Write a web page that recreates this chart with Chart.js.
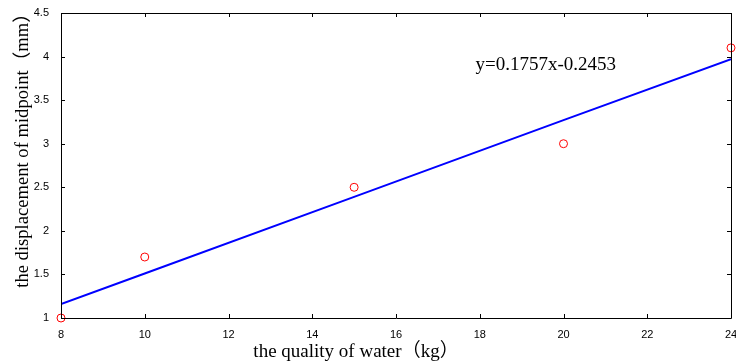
<!DOCTYPE html>
<html>
<head>
<meta charset="utf-8">
<script src="https://cdn.jsdelivr.net/npm/chart.js@4.4.1/dist/chart.umd.min.js"></script>
<style>
html,body{margin:0;padding:0;background:#fff;}
#wrap{width:736px;height:361px;position:relative;}
</style>
</head>
<body>
<div id="wrap"><canvas id="c" width="736" height="361"></canvas></div>
<script>
// Data
const measuredX = [8, 10, 15, 20, 24];
const measuredY = [1, 1.7, 2.5, 3, 4.1];
const fitX = [8, 10, 15, 20, 24];
const fitY = [1.16, 1.51, 2.39, 3.27, 3.97];
const xTickValues = [8, 10, 12, 14, 16, 18, 20, 22, 24];
const yTickValues = [1, 1.5, 2, 2.5, 3, 3.5, 4, 4.5];
const xTitle = 'the quality of water（kg）';
const yTitle = 'the displacement of midpoint（mm）';
const equationText = 'y=0.1757x-0.2453';
const equationPos = {x: 17.9, y: 3.85};

const serif = "'Liberation Serif','Noto Sans CJK SC',serif";
const sans = "'Liberation Sans',Arial,sans-serif";

const boxPlugin = {
  id: 'boxPlugin',
  afterDraw(chart) {
    const ctx = chart.ctx;
    const a = chart.chartArea;
    const xs = chart.scales.x, ys = chart.scales.y;
    ctx.save();
    ctx.strokeStyle = '#000';
    ctx.lineWidth = 1;
    ctx.beginPath();
    ctx.rect(Math.round(a.left) + 0.5, Math.round(a.top) + 0.5, Math.round(a.right - a.left), Math.round(a.bottom - a.top));
    ctx.stroke();
    // inward ticks
    const tl = 4;
    ctx.beginPath();
    xTickValues.forEach(v => {
      const px = Math.round(xs.getPixelForValue(v)) + 0.5;
      ctx.moveTo(px, a.bottom); ctx.lineTo(px, a.bottom - tl);
      ctx.moveTo(px, a.top); ctx.lineTo(px, a.top + tl);
    });
    yTickValues.forEach(v => {
      const py = Math.round(ys.getPixelForValue(v)) + 0.5;
      ctx.moveTo(a.left, py); ctx.lineTo(a.left + tl, py);
      ctx.moveTo(a.right, py); ctx.lineTo(a.right - tl, py);
    });
    ctx.stroke();
    // equation
    ctx.fillStyle = '#000';
    ctx.font = '19px ' + serif;
    ctx.textAlign = 'left';
    ctx.textBaseline = 'alphabetic';
    ctx.fillText(equationText, xs.getPixelForValue(equationPos.x), ys.getPixelForValue(equationPos.y));
    // axis titles
    ctx.font = '19px ' + serif;
    ctx.textAlign = 'center';
    ctx.textBaseline = 'alphabetic';
    ctx.fillText(xTitle, 356, 357);
    ctx.save();
    ctx.font = '18.6px ' + serif;
    ctx.translate(28, 146);
    ctx.rotate(-Math.PI / 2);
    ctx.fillText(yTitle, 0, 0);
    ctx.restore();
    ctx.restore();
  }
};

new Chart(document.getElementById('c'), {
  type: 'scatter',
  data: {
    datasets: [
      {
        label: 'fit',
        data: fitX.map((x, i) => ({x, y: fitY[i]})),
        showLine: true,
        borderColor: '#0000ff',
        borderWidth: 2,
        pointRadius: 0,
        fill: false,
        tension: 0,
        order: 2
      },
      {
        label: 'measured',
        data: measuredX.map((x, i) => ({x, y: measuredY[i]})),
        showLine: false,
        borderColor: '#ff0000',
        backgroundColor: 'rgba(0,0,0,0)',
        borderWidth: 1,
        pointRadius: 4,
        pointStyle: 'circle',
        clip: false,
        order: 1
      }
    ]
  },
  options: {
    responsive: false,
    animation: false,
    devicePixelRatio: 1,
    layout: {padding: {top: 13, right: 3, left: 0, bottom: 0}},
    plugins: {legend: {display: false}, tooltip: {enabled: false}},
    scales: {
      x: {
        type: 'linear',
        min: 8, max: 24,
        grid: {display: false},
        border: {display: false},
        afterBuildTicks: s => { s.ticks = xTickValues.map(v => ({value: v})); },
        afterFit: s => { s.height = 43; s.paddingLeft = 0; s.paddingRight = 0; },
        ticks: {
          color: '#000', font: {family: sans, size: 11}, padding: 2,
          maxRotation: 0, autoSkip: false,
          callback: v => String(v)
        }
      },
      y: {
        type: 'linear',
        min: 1, max: 4.5,
        grid: {display: false},
        border: {display: false},
        afterBuildTicks: s => { s.ticks = yTickValues.map(v => ({value: v})); },
        afterFit: s => { s.width = 61; s.paddingTop = 0; s.paddingBottom = 0; },
        ticks: {
          color: '#000', font: {family: sans, size: 11}, padding: 4,
          autoSkip: false,
          callback: v => String(v)
        }
      }
    }
  },
  plugins: [boxPlugin]
});
</script>
</body>
</html>
